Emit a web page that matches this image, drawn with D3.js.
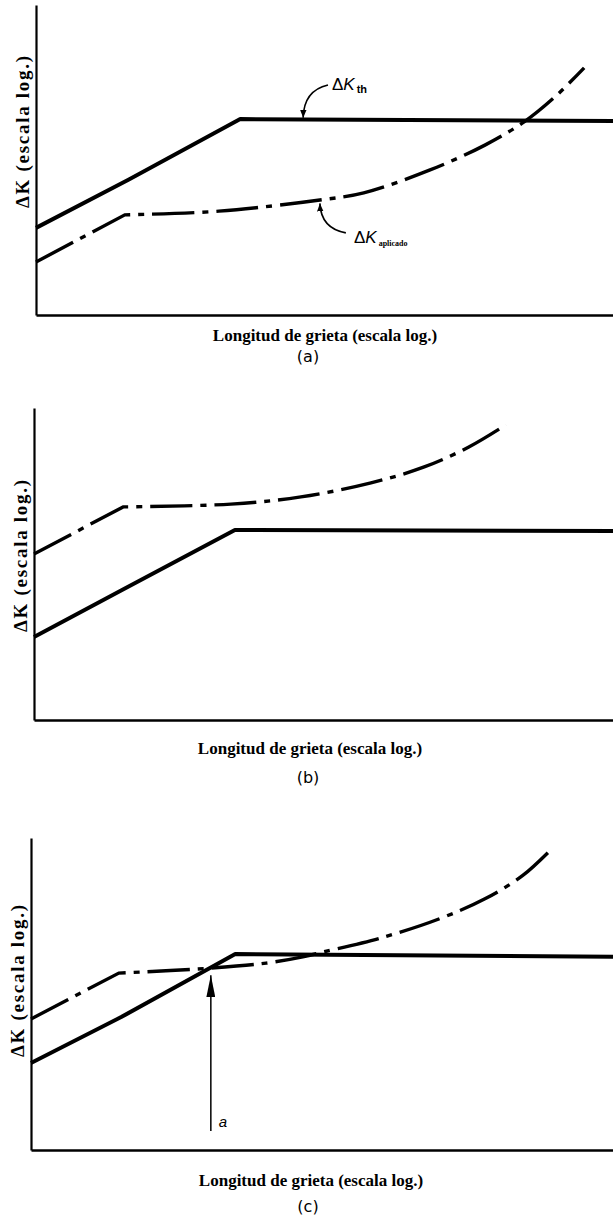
<!DOCTYPE html>
<html>
<head>
<meta charset="utf-8">
<script src="https://cdn.jsdelivr.net/npm/d3@7.9.0/dist/d3.min.js"></script>
<style>
  body { margin: 0; background: #fff; }
  svg { display: block; }
</style>
</head>
<body>
<svg id="chart" width="613" height="1222"></svg>
<script>
// values, both axes in relative log units (0-100)
const thresholdA = [[0, 28.1], [16.1, 43.7], [35.4, 63.2], [100, 62.6]];
const appliedA = [[0, 17.1], [15.4, 32.3], [31.7, 33.5], [49.2, 37.1], [56.8, 39.4], [68.3, 46.8], [77.8, 54.8], [84.6, 62.3], [89.9, 70.3], [95.0, 79.7]];

const thresholdB = [[0, 26.6], [15.2, 41.7], [34.7, 60.9], [100, 60.6]];
const appliedB = [[0, 53.2], [15.4, 68.3], [34.0, 69.2], [46.1, 71.5], [58.2, 76.0], [67.4, 81.1], [75.1, 87.5], [81.5, 94.6]];

const thresholdC = [[0, 27.9], [15.5, 42.6], [35.1, 62.8], [100, 61.9]];
const appliedC = [[0, 42.0], [15.1, 56.7], [30.9, 58.3], [40.4, 59.9], [46.7, 61.9], [50.3, 63.5], [60.0, 67.9], [70.3, 74.2], [78.0, 80.5], [84.5, 88.0], [89.3, 96.2]];

// crack length "a" where the two curves cross in (c)
const critLength = [30.9];

const panelNames = ['(a)', '(b)', '(c)'];
const yTitle = 'ΔK (escala log.)';
const xTitle = 'Longitud de grieta (escala log.)';

// page layout of the three panels
const panels = [
  { th: thresholdA, ap: appliedA, x0: 36, top: 5, bottom: 315, ylabY: 132, xlabX: 325, xlabY: 341, capY: 362 },
  { th: thresholdB, ap: appliedB, x0: 34, top: 408, bottom: 720, ylabY: 556, xlabX: 310, xlabY: 754, capY: 783 },
  { th: thresholdC, ap: appliedC, x0: 31, top: 838, bottom: 1150, ylabY: 981, xlabX: 311, xlabY: 1186, capY: 1212 }
];

const svg = d3.select('#chart');
svg.append('rect').attr('width', 613).attr('height', 1222).attr('fill', '#fff');

// arrowheads
const defs = svg.append('defs');
defs.append('marker')
  .attr('id', 'head')
  .attr('viewBox', '0 0 10 10')
  .attr('refX', 10).attr('refY', 5)
  .attr('markerWidth', 8).attr('markerHeight', 8)
  .attr('markerUnits', 'userSpaceOnUse')
  .attr('orient', 'auto')
  .append('path').attr('d', 'M0,1 L10,5 L0,9 Z').attr('fill', '#000');
defs.append('marker')
  .attr('id', 'headLong')
  .attr('viewBox', '0 0 10 10')
  .attr('refX', 10).attr('refY', 5)
  .attr('markerWidth', 22).attr('markerHeight', 9)
  .attr('markerUnits', 'userSpaceOnUse')
  .attr('orient', 'auto')
  .attr('preserveAspectRatio', 'none')
  .append('path').attr('d', 'M0,0 L10,5 L0,10 Z').attr('fill', '#000');

panels.forEach((p, i) => {
  const x = d3.scaleLinear().domain([0, 100]).range([p.x0, 613]);
  const y = d3.scaleLinear().domain([0, 100]).range([p.bottom, p.top]);
  const g = svg.append('g');

  // axes, no ticks
  g.append('g')
    .attr('transform', `translate(${p.x0},0)`)
    .call(d3.axisLeft(y).ticks(0).tickSizeOuter(0))
    .select('.domain').attr('stroke-width', 2.2);
  g.append('g')
    .attr('transform', `translate(0,${p.bottom})`)
    .call(d3.axisBottom(x).ticks(0).tickSizeOuter(0))
    .select('.domain').attr('stroke-width', 2.6);

  const straight = d3.line().x(d => x(d[0])).y(d => y(d[1]));
  const smooth = d3.line().x(d => x(d[0])).y(d => y(d[1])).curve(d3.curveCatmullRom.alpha(0.5));

  // ΔK threshold, solid
  g.append('path')
    .attr('d', straight(p.th))
    .attr('fill', 'none').attr('stroke', '#000')
    .attr('stroke-width', 4).attr('stroke-linejoin', 'round');

  // ΔK applied, dash-dot: straight up to the knee, smooth after it, one path
  const apD = straight(p.ap.slice(0, 2)) + smooth(p.ap.slice(1)).replace(/^M[^A-Za-z]*/, '');
  g.append('path')
    .attr('d', apD)
    .attr('fill', 'none').attr('stroke', '#000')
    .attr('stroke-width', 3.4)
    .attr('stroke-dasharray', '42,8,6,8');

  // titles
  g.append('text')
    .attr('transform', `translate(${p.x0 - 7},${p.ylabY}) rotate(-90)`)
    .attr('text-anchor', 'middle')
    .attr('font-family', '"Liberation Serif", "Times New Roman", serif')
    .attr('font-weight', 'bold').attr('font-size', 19)
    .attr('textLength', 152).attr('lengthAdjust', 'spacing')
    .text(yTitle);
  g.append('text')
    .attr('x', p.xlabX).attr('y', p.xlabY)
    .attr('text-anchor', 'middle')
    .attr('font-family', '"Liberation Serif", "Times New Roman", serif')
    .attr('font-weight', 'bold').attr('font-size', 17)
    .text(xTitle);
  g.append('text')
    .attr('x', 308).attr('y', p.capY)
    .attr('text-anchor', 'middle')
    .attr('font-family', '"DejaVu Sans", sans-serif')
    .attr('font-size', 16)
    .text(panelNames[i]);

  if (i === 0) {
    // ΔK_th label with leader
    const lead = d3.path();
    lead.moveTo(x(50.6), y(74.2));
    lead.quadraticCurveTo(x(46.4), y(72.4), x(46.3), y(63.6));
    g.append('path').attr('d', lead.toString())
      .attr('fill', 'none').attr('stroke', '#000').attr('stroke-width', 1.6)
      .attr('marker-end', 'url(#head)');
    const t1 = g.append('text')
      .attr('x', x(51.3)).attr('y', y(72.6))
      .attr('font-family', '"Liberation Sans", Arial, sans-serif')
      .attr('font-size', 17);
    t1.append('tspan').text('Δ');
    t1.append('tspan').attr('font-style', 'italic').text('K');
    t1.append('tspan').attr('font-size', 11).attr('font-weight', 'bold').attr('dx', 2).attr('dy', 3).text('th');

    // ΔK_aplicado label with leader
    const lead2 = d3.path();
    lead2.moveTo(x(53.7), y(26.5));
    lead2.quadraticCurveTo(x(49.4), y(27.9), x(49.2), y(36.0));
    g.append('path').attr('d', lead2.toString())
      .attr('fill', 'none').attr('stroke', '#000').attr('stroke-width', 1.6)
      .attr('marker-end', 'url(#head)');
    const t2 = g.append('text')
      .attr('x', x(55.1)).attr('y', y(23.2))
      .attr('font-family', '"Liberation Sans", Arial, sans-serif')
      .attr('font-size', 17);
    t2.append('tspan').text('Δ');
    t2.append('tspan').attr('font-style', 'italic').text('K');
    t2.append('tspan')
      .attr('font-family', '"Liberation Serif", serif')
      .attr('font-size', 8).attr('font-weight', 'bold').attr('dx', 2).attr('dy', 3)
      .text('aplicado');
  }

  if (i === 2) {
    // critical crack length arrow
    g.selectAll('line.crit')
      .data(critLength)
      .join('line')
      .attr('class', 'crit')
      .attr('x1', d => x(d)).attr('x2', d => x(d))
      .attr('y1', y(6.1)).attr('y2', y(56.0))
      .attr('stroke', '#000').attr('stroke-width', 1.5)
      .attr('marker-end', 'url(#headLong)');
    g.selectAll('text.crit')
      .data(critLength)
      .join('text')
      .attr('class', 'crit')
      .attr('x', d => x(d) + 8).attr('y', y(7.4))
      .attr('font-family', '"Liberation Sans", Arial, sans-serif')
      .attr('font-style', 'italic').attr('font-size', 15)
      .text('a');
  }
});
</script>
</body>
</html>
